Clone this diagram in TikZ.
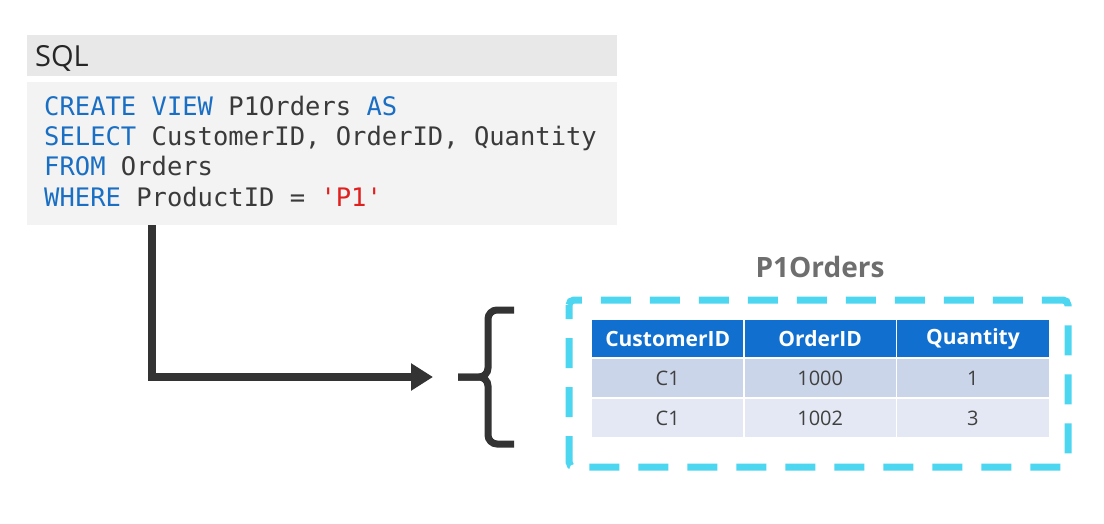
\documentclass[tikz,border=0pt]{standalone}
\usepackage{fontspec}
\setmainfont{Open Sans}
\newfontfamily\codefont{DejaVu Sans Mono}
\usetikzlibrary{arrows.meta}
\definecolor{hdrbg}{HTML}{E8E8E8}
\definecolor{codebg}{HTML}{F3F3F3}
\definecolor{kw}{HTML}{1A6FC4}
\definecolor{codetxt}{HTML}{3A3A3A}
\definecolor{strred}{HTML}{E0201E}
\definecolor{darkline}{HTML}{333333}
\definecolor{dashcyan}{HTML}{4DD6F0}
\definecolor{tblhead}{HTML}{1170CF}
\definecolor{rowa}{HTML}{CBD5EA}
\definecolor{rowb}{HTML}{E4E8F4}
\definecolor{titlegray}{HTML}{6E6E6E}
\definecolor{celltxt}{HTML}{404040}
\tikzset{
  codeline/.style={anchor=base west, inner sep=0pt, font=\codefont\fontsize{25.5}{30}\selectfont, text=codetxt},
  cellbox/.style={anchor=north west, inner sep=0pt, minimum width=151pt, minimum height=38pt},
  headcell/.style={cellbox, minimum height=37pt, fill=tblhead, text=white, font=\bfseries\fontsize{21}{24}\selectfont},
  rowacell/.style={cellbox, fill=rowa, text=celltxt, font=\fontsize{20}{24}\selectfont},
  rowbcell/.style={cellbox, fill=rowb, text=celltxt, font=\fontsize{20}{24}\selectfont},
  flowarrow/.style={line width=8pt, draw=darkline, -{Triangle[length=22pt,width=26pt]}},
  bracestroke/.style={line width=7pt, draw=darkline, rounded corners=9pt},
  dashframe/.style={line width=7pt, draw=dashcyan, dash pattern=on 30pt off 19pt, dash phase=16pt, rounded corners=5pt}
}
\begin{document}
\begin{tikzpicture}[x=1pt,y=-1pt]
\useasboundingbox[fill=white] (0,0) rectangle (1104,524);
% SQL header and code box
\node[fill=hdrbg, anchor=north west, minimum width=590pt, minimum height=41pt, inner sep=0pt] (hdr) at (27,35) {};
\node[anchor=base west, inner sep=0pt, text=black!85, font=\fontsize{29}{32}\selectfont] (sqltitle) at (35,67) {SQL};
\node[fill=codebg, anchor=north west, minimum width=590pt, minimum height=143pt, inner sep=0pt] (codebox) at (27,82) {};
\node[codeline] (l1) at (44,116) {\textcolor{kw}{CREATE VIEW} P1Orders \textcolor{kw}{AS}};
\node[codeline] (l2) at (44,146) {\textcolor{kw}{SELECT} CustomerID, OrderID, Quantity};
\node[codeline] (l3) at (44,176) {\textcolor{kw}{FROM} Orders};
\node[codeline] (l4) at (44,207) {\textcolor{kw}{WHERE} ProductID = \textcolor{strred}{'P1'}};
% arrow
\path (codebox.south west) ++(125,0) coordinate (a0);
\coordinate (bracetip) at (458,377);
\coordinate (a1) at (433,377);
\draw[flowarrow] (a0) |- (a1);
% brace
\draw[bracestroke] (514,310) -- (488,310) -- (488,377) -- (bracetip);
\draw[bracestroke] (bracetip) -- (488,377) -- (488,444) -- (514,444);
% title
\node[font=\bfseries\fontsize{28}{32}\selectfont, text=titlegray] (title) at (820,267) {P1Orders};
% dashed frame
\draw[dashframe] (569,300) rectangle (1068,467);
% table
\node[headcell] (h1) at (592,320) {CustomerID};
\node[headcell] (h2) at (744.5,320) {OrderID};
\node[headcell, minimum width=151.5pt] (h3) at (897,320) {Quantity};
\node[rowacell] (r11) at (592,359) {C1};
\node[rowacell] (r12) at (744.5,359) {1000};
\node[rowacell, minimum width=151.5pt] (r13) at (897,359) {1};
\node[rowbcell] (r21) at (592,399) {C1};
\node[rowbcell] (r22) at (744.5,399) {1002};
\node[rowbcell, minimum width=151.5pt] (r23) at (897,399) {3};
\end{tikzpicture}
\end{document}
